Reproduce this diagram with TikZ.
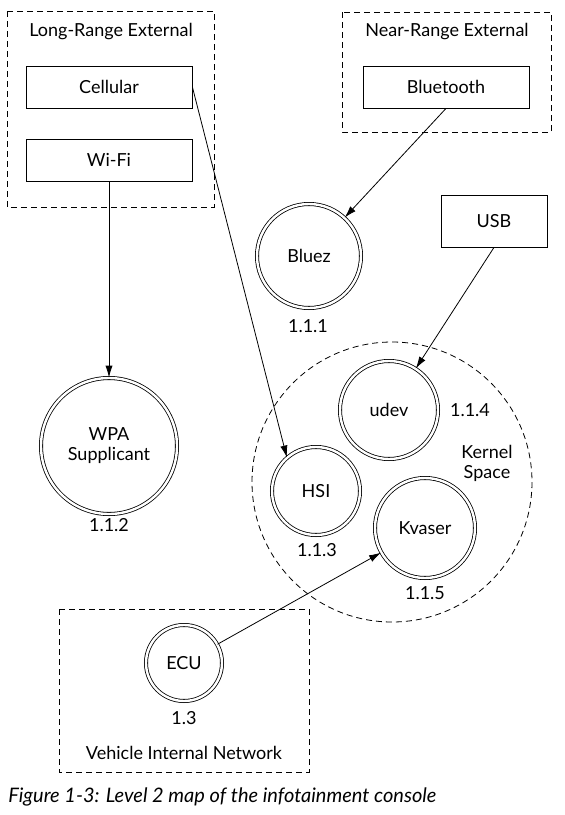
\documentclass[tikz,border=0pt]{standalone}
\usepackage{fontspec}
\setmainfont{Lato}
\usepackage{tikz}
\usetikzlibrary{arrows.meta}

\begin{document}
\begin{tikzpicture}[x=0.5pt, y=-0.5pt,
    font=\fontsize{9}{11}\selectfont,
    every path/.style={line width=0.4pt},
    zone/.style={draw, dash pattern=on 3pt off 2pt},
    block/.style={draw, minimum width=83pt, minimum height=21pt, inner sep=0pt},
    process/.style={circle, draw, double, double distance=1.2pt, inner sep=0pt, align=center},
    flow/.style={-{Latex[length=6pt, width=3.6pt]}}]
    % Fix the page to the size of the reference
    \useasboundingbox (0,0) rectangle (565,815);
    % Draw the three dashed zones
    \draw[zone] (7,11) rectangle (214,207);
    \draw[zone] (342,12) rectangle (551,132);
    \draw[zone] (59,609) rectangle (309,772);
    % Draw the kernel space boundary
    \draw[zone] (392,482) circle (140);
    % Zone titles
    \node (longrange) at (111,32) {Long-Range External};
    \node (nearrange) at (447,32) {Near-Range External};
    \node (vehiclenet) at (184,753) {Vehicle Internal Network};
    \node[align=center] (kernel) at (487,463) {Kernel\\[-1pt]Space};
    % Draw the external interfaces
    \node[block] (cellular) at (109,87) {Cellular};
    \node[block] (wifi) at (109,160) {Wi-Fi};
    \node[block] (bluetooth) at (446,87) {Bluetooth};
    \node[block, minimum width=53pt, minimum height=26pt] (usb) at (494,221) {USB};
    % Draw the processes
    \node[process, minimum size=52pt] (bluez) at (309,256) {Bluez};
    \node[process, minimum size=68pt] (wpa) at (109,446) {WPA\\[-1pt]Supplicant};
    \node[process, minimum size=49pt] (udev) at (389,410) {udev};
    \node[process, minimum size=44pt] (hsi) at (316,491) {HSI};
    \node[process, minimum size=50pt] (kvaser) at (425,528) {Kvaser};
    \node[process, minimum size=38pt] (ecu) at (184,663) {ECU};
    % Process numbers
    \node (n111) at (308,326) {1.1.1};
    \node (n112) at (109,525) {1.1.2};
    \node (n113) at (317,550) {1.1.3};
    \node (n114) at (470,410) {1.1.4};
    \node (n115) at (425,593) {1.1.5};
    \node (n13) at (184,718) {1.3};
    % Draw the data flows
    \draw[flow] (wifi) -- (wpa);
    \draw[flow] (cellular.east) -- (hsi.131);
    \draw[flow] (bluetooth.south) -- (bluez);
    \draw[flow] (usb.south) -- (udev);
    \draw[flow] (ecu) -- (kvaser);
    % Caption
    \node[anchor=west, inner sep=0pt, font=\fontsize{10}{12}\selectfont\itshape] (caption) at (8,797) {Figure 1-3: Level 2 map of the infotainment console};
\end{tikzpicture}
\end{document}
